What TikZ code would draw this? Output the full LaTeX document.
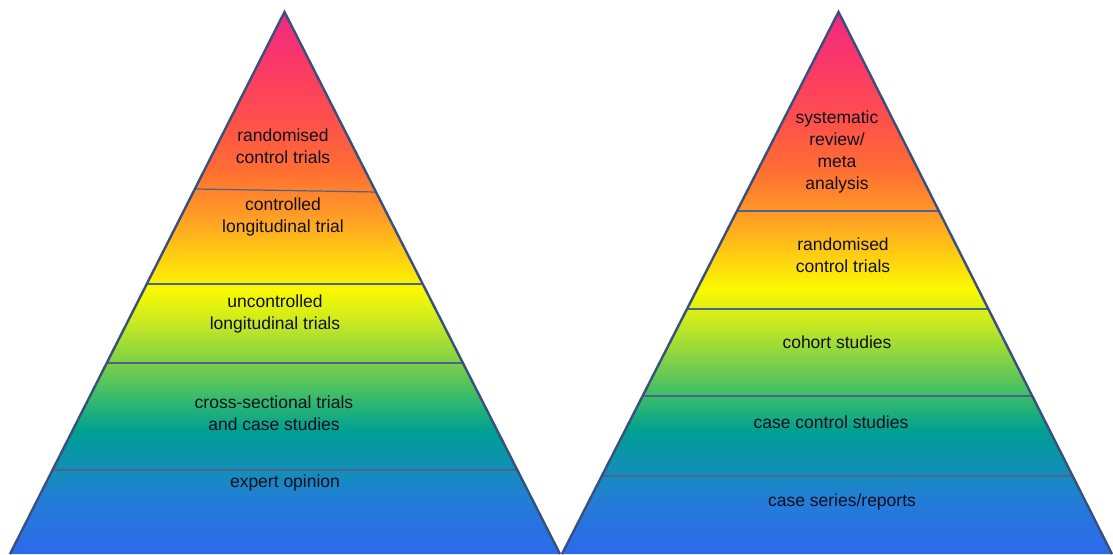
\documentclass[tikz,border=0pt]{standalone}
\usepackage{fontspec}
\setmainfont{Liberation Sans}
\usetikzlibrary{calc}

% vertical colour ramp: blue at the base, magenta at the apex
\definecolor{g00}{RGB}{45,105,235}
\definecolor{g01}{RGB}{35,125,215}
\definecolor{g02}{RGB}{15,145,180}
\definecolor{g03}{RGB}{0,160,145}
\definecolor{g04}{RGB}{50,185,110}
\definecolor{g05}{RGB}{130,210,70}
\definecolor{g06}{RGB}{205,235,30}
\definecolor{g07}{RGB}{250,250,0}
\definecolor{g08}{RGB}{255,200,20}
\definecolor{g09}{RGB}{255,150,40}
\definecolor{g10}{RGB}{255,110,50}
\definecolor{g11}{RGB}{255,80,75}
\definecolor{g12}{RGB}{250,55,105}
\definecolor{g13}{RGB}{240,40,130}
\definecolor{edgecol}{RGB}{55,80,125}
\definecolor{sepcol}{RGB}{75,100,140}
\definecolor{txtcol}{RGB}{15,15,30}

\pgfdeclareverticalshading{pyramidramp}{100bp}{%
  color(0bp)=(g00); color(25bp)=(g00); color(30bp)=(g01); color(33.2bp)=(g02);
  color(36.4bp)=(g03); color(39.2bp)=(g04); color(42.9bp)=(g05);
  color(46.6bp)=(g06); color(49.4bp)=(g07); color(53bp)=(g08);
  color(56.7bp)=(g09); color(60.4bp)=(g10); color(65bp)=(g11);
  color(70.6bp)=(g12); color(75bp)=(g13); color(100bp)=(g13)}

\tikzset{
  edge/.style={draw=edgecol, line width=2.4pt, line join=miter},
  sep/.style={draw=sepcol, line width=1.2pt},
  lbl/.style={text=txtcol, align=center, inner sep=0pt,
              font=\fontsize{17.5}{22}\selectfont}
}

\begin{document}
\begin{tikzpicture}[x=1pt, y=-1pt]
\useasboundingbox (0,0) rectangle (1113,554);

% ---- left pyramid ----
\coordinate (LA) at (284.5,12);
\coordinate (LL) at (10,554);
\coordinate (LR) at (560,554);
\shade[shading=pyramidramp] (LA) -- (LL) -- (LR) -- cycle;
\foreach \yl/\yr in {189/192, 284/284, 363/363, 470/470}{
  \draw[sep] ($(LA)!{(\yl-12)/542}!(LL)$) -- ($(LA)!{(\yr-12)/542}!(LR)$);
}
\draw[edge] (LL) -- (LA) -- (LR);

\node[lbl] (l1) at (283,146) {randomised\\control trials};
\node[lbl] (l2) at (283,217) {controlled\\longitudinal trial};
\node[lbl] (l3) at (275,314) {uncontrolled\\longitudinal trials};
\node[lbl] (l4) at (274,413) {cross-sectional trials\\and case studies};
\node[lbl] (l5) at (285,483) {expert opinion};

% ---- right pyramid ----
\coordinate (RA) at (838.5,12);
\coordinate (RL) at (562,554);
\coordinate (RR) at (1112,554);
\shade[shading=pyramidramp] (RA) -- (RL) -- (RR) -- cycle;
\foreach \yy in {211, 309, 396, 476}{
  \draw[sep] ($(RA)!{(\yy-12)/542}!(RL)$) -- ($(RA)!{(\yy-12)/542}!(RR)$);
}
\draw[edge] (RL) -- (RA) -- (RR);

\node[lbl] (r1) at (837,152) {systematic\\review/\\meta\\analysis};
\node[lbl] (r2) at (843,255) {randomised\\control trials};
\node[lbl] (r3) at (837,342) {cohort studies};
\node[lbl] (r4) at (831,422) {case control studies};
\node[lbl] (r5) at (842,502) {case series/reports};
\end{tikzpicture}
\end{document}
